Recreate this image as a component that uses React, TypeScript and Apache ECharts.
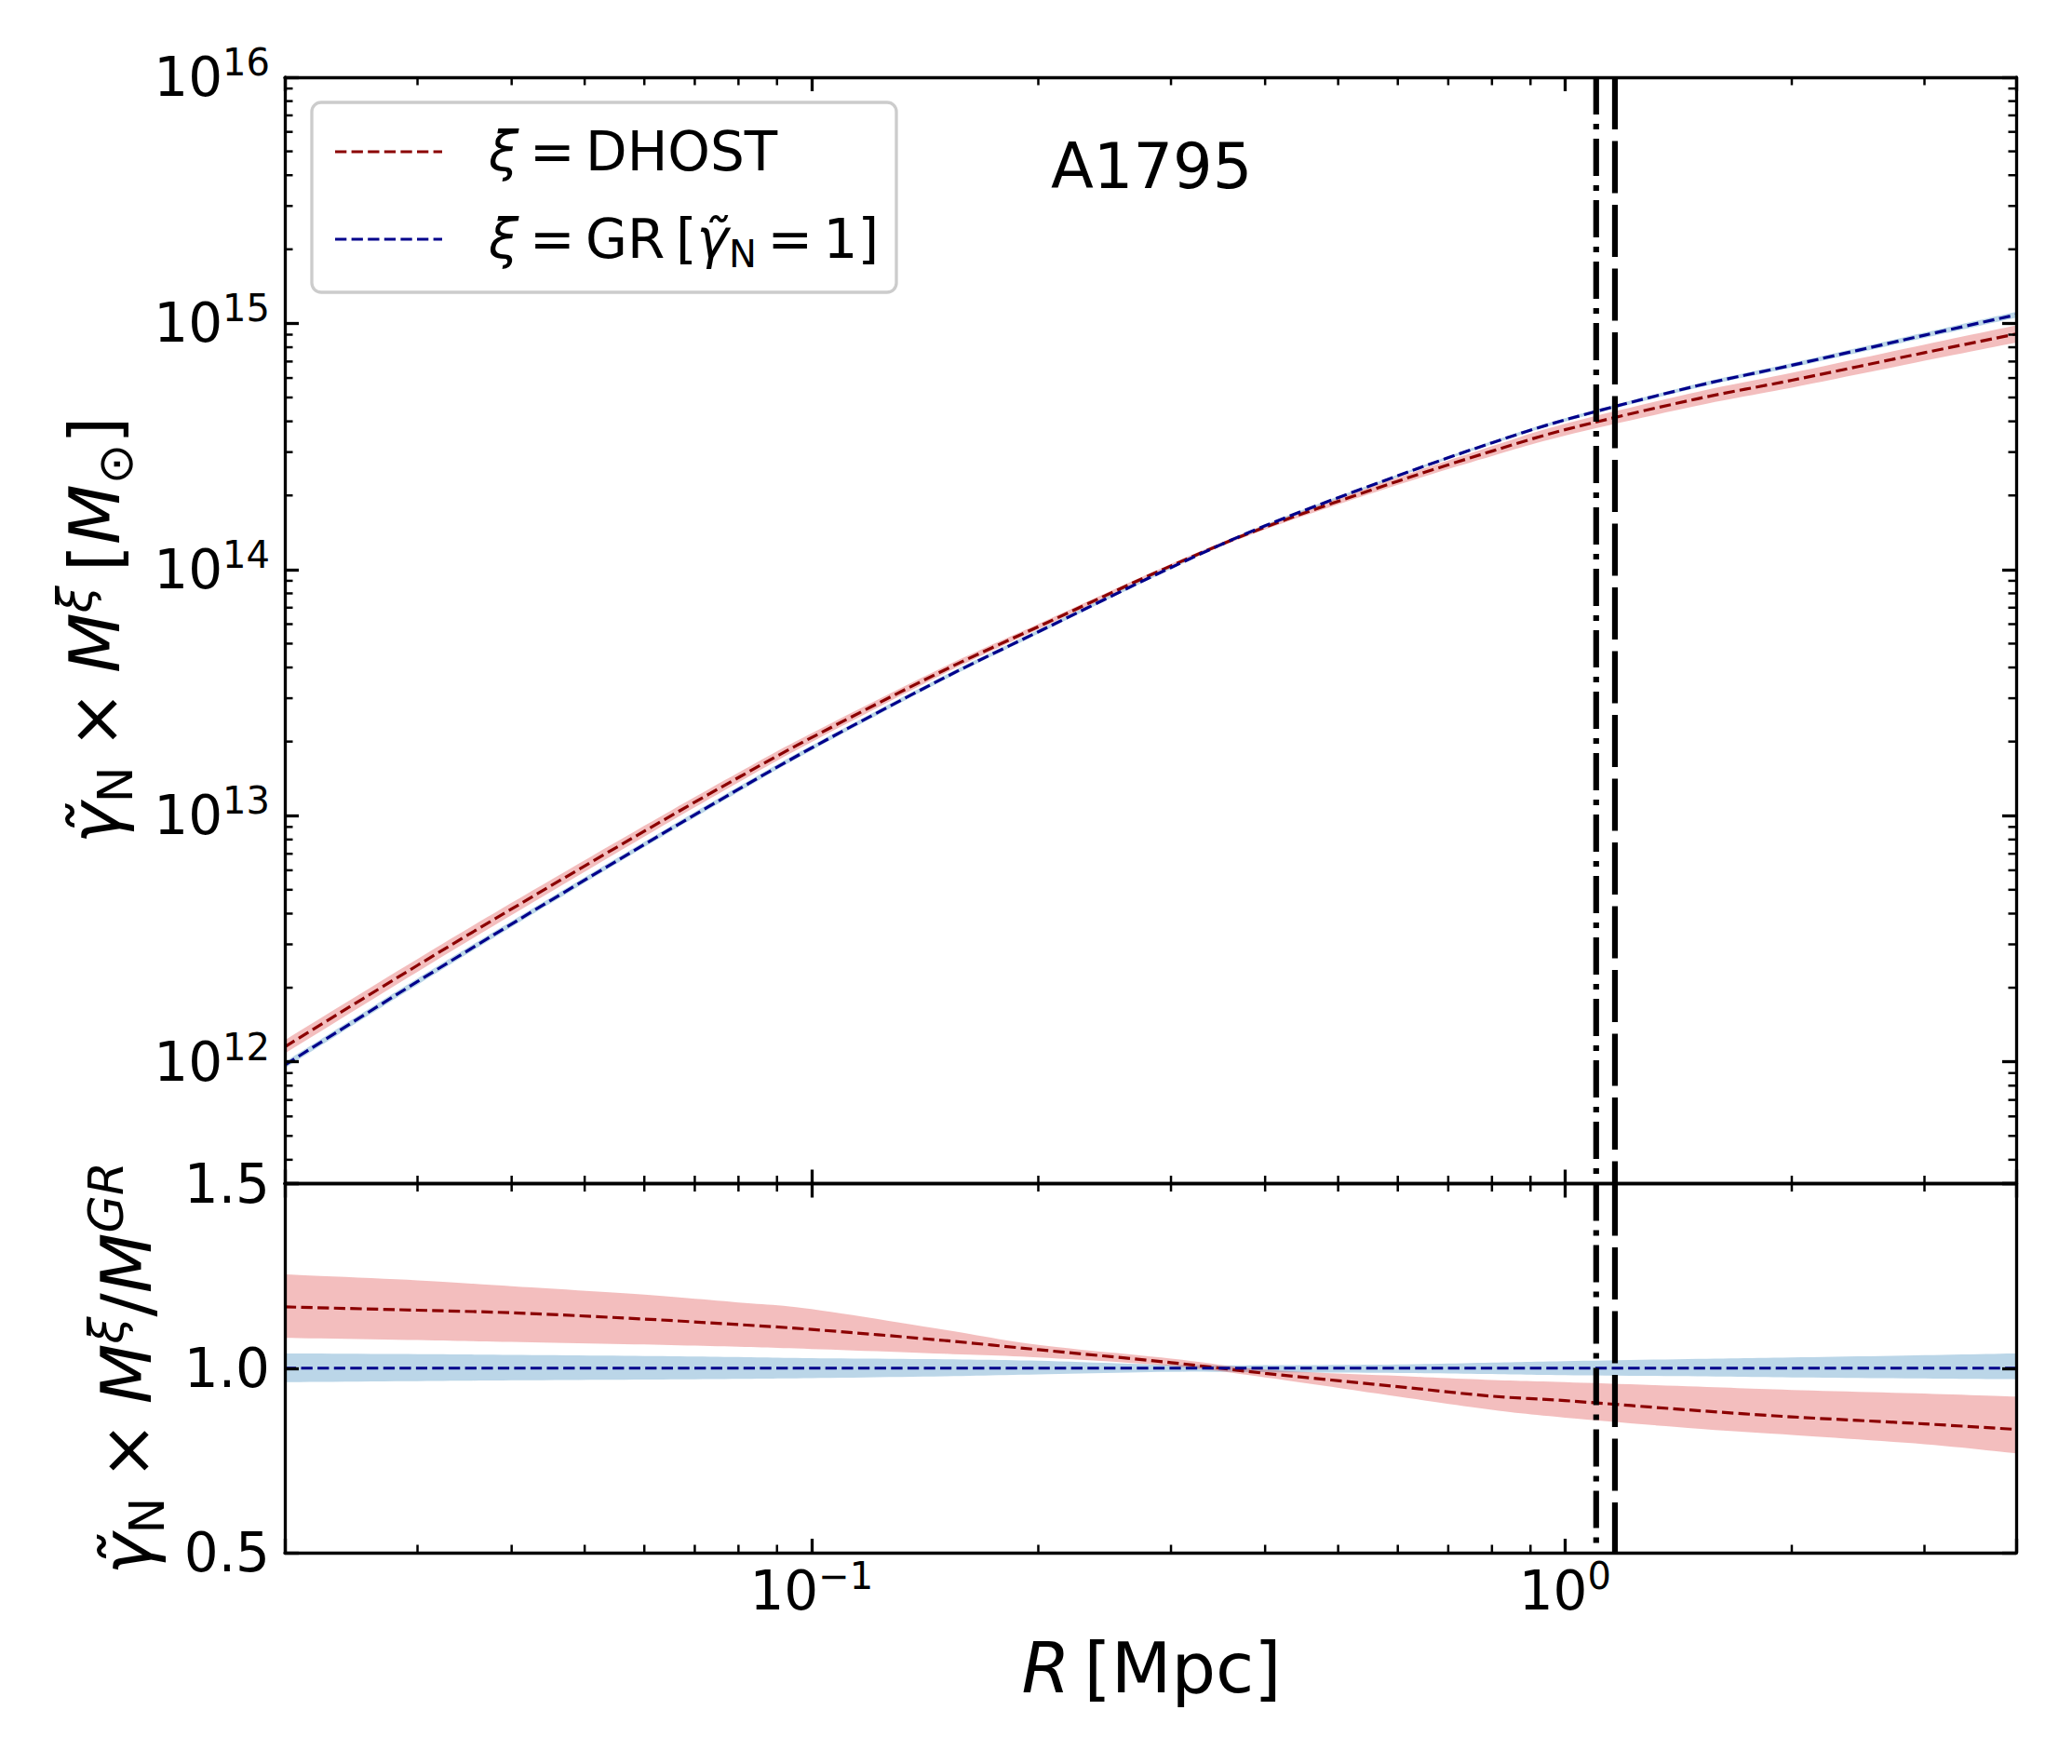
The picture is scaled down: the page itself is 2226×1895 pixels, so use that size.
import React, { useEffect, useRef } from 'react';
import * as echarts from 'echarts';

const FONT = 'DejaVu Sans';

// ---- data ----
const R_MPC = [0.02, 0.03, 0.04, 0.06, 0.08, 0.1, 0.15, 0.2, 0.3, 0.4, 0.6, 0.8, 1.0, 1.5, 2.0, 3.0, 3.97];

// upper panel, log10 of mass [M_sun]
const LOG_M_DHOST = [12.061, 12.392, 12.621, 12.937, 13.155, 13.317, 13.591, 13.768, 14.015, 14.172, 14.359, 14.481, 14.568, 14.694, 14.769, 14.881, 14.957];
const LOG_M_DHOST_HI = [12.088, 12.418, 12.646, 12.959, 13.175, 13.335, 13.605, 13.779, 14.023, 14.181, 14.374, 14.501, 14.592, 14.722, 14.799, 14.914, 14.992];
const LOG_M_DHOST_LO = [12.034, 12.366, 12.596, 12.915, 13.135, 13.299, 13.577, 13.757, 14.007, 14.163, 14.344, 14.461, 14.544, 14.666, 14.739, 14.848, 14.922];
const LOG_M_GR = [11.987, 12.326, 12.560, 12.883, 13.107, 13.275, 13.560, 13.747, 14.008, 14.178, 14.381, 14.515, 14.608, 14.747, 14.830, 14.952, 15.035];
const LOG_M_GR_HI = [12.000, 12.339, 12.572, 12.894, 13.118, 13.285, 13.569, 13.755, 14.014, 14.183, 14.386, 14.521, 14.615, 14.755, 14.839, 14.963, 15.047];
const LOG_M_GR_LO = [11.974, 12.313, 12.548, 12.872, 13.096, 13.265, 13.551, 13.739, 14.002, 14.173, 14.376, 14.509, 14.601, 14.739, 14.821, 14.941, 15.023];

// lower panel, ratio to GR
const RATIO_DHOST = [1.166, 1.157, 1.150, 1.133, 1.118, 1.105, 1.075, 1.050, 1.015, 0.986, 0.950, 0.924, 0.912, 0.885, 0.868, 0.849, 0.834];
const RATIO_DHOST_HI = [1.254, 1.238, 1.222, 1.199, 1.178, 1.160, 1.104, 1.063, 1.026, 0.996, 0.979, 0.968, 0.962, 0.950, 0.941, 0.931, 0.923];
const RATIO_DHOST_LO = [1.082, 1.076, 1.071, 1.064, 1.058, 1.052, 1.039, 1.029, 1.006, 0.975, 0.923, 0.887, 0.866, 0.836, 0.819, 0.794, 0.769];
const RATIO_GR = [1, 1, 1, 1, 1, 1, 1, 1, 1, 1, 1, 1, 1, 1, 1, 1, 1];
const RATIO_GR_HI = [1.040, 1.038, 1.036, 1.033, 1.030, 1.027, 1.024, 1.020, 1.009, 1.008, 1.010, 1.015, 1.019, 1.025, 1.029, 1.035, 1.040];
const RATIO_GR_LO = [0.962, 0.965, 0.967, 0.969, 0.971, 0.973, 0.978, 0.983, 0.990, 0.989, 0.987, 0.984, 0.981, 0.978, 0.975, 0.972, 0.970];

// radii of vertical reference lines [Mpc]
const R500_DASHDOT = 1.10;
const R500_DASHED = 1.165;

// axis ranges and ticks
const X_MIN = 0.02;
const X_MAX = 3.97;
const Y_MIN = 3.2e11;
const Y_MAX = 1e16;
const RATIO_MIN = 0.5;
const RATIO_MAX = 1.5;
const RATIO_STEP = 0.5;
const X_MINOR = [0.03, 0.04, 0.05, 0.06, 0.07, 0.08, 0.09, 0.2, 0.3, 0.4, 0.5, 0.6, 0.7, 0.8, 0.9, 2, 3];
const Y_MINOR_MANTISSA = [2, 3, 4, 5, 6, 7, 8, 9];
const Y_MINOR_DECADES = [1e11, 1e12, 1e13, 1e14, 1e15];

// ---- styles ----
const C_DHOST = '#8b0000';
const C_GR = '#00008b';
const C_DHOST_BAND = 'rgba(214,39,40,0.3)';
const C_GR_BAND = 'rgba(31,119,180,0.3)';
const CURVE_DASH = [12.3, 5.3];
const MAJOR_LEN = 15;
const MINOR_LEN = 8.5;
const DASHDOT = [40, 10, 6, 10];
const DASHED = [56, 12.5];

const Y_MINOR: number[] = [];
Y_MINOR_DECADES.forEach((d) => Y_MINOR_MANTISSA.forEach((m) => {
  const v = m * d;
  if (v > Y_MIN && v < Y_MAX) Y_MINOR.push(v);
}));

const pow10 = (arr: number[]) => arr.map((v) => Math.pow(10, v));
const pairs = (ys: number[]) => R_MPC.map((r, i) => [r, ys[i]]);

// Catmull-Rom smoothing of an edge in pixel space (rendering only)
function smoothEdge(pts: number[][], seg = 12): number[][] {
  const out: number[][] = [];
  const n = pts.length;
  for (let i = 0; i < n - 1; i++) {
    const p0 = pts[Math.max(i - 1, 0)];
    const p1 = pts[i];
    const p2 = pts[i + 1];
    const p3 = pts[Math.min(i + 2, n - 1)];
    for (let k = 0; k < seg; k++) {
      const t = k / seg;
      const t2 = t * t;
      const t3 = t2 * t;
      const f = (a: number, b: number, c: number, d: number) =>
        0.5 * (2 * b + (-a + c) * t + (2 * a - 5 * b + 4 * c - d) * t2 + (-a + 3 * b - 3 * c + d) * t3);
      out.push([f(p0[0], p1[0], p2[0], p3[0]), f(p0[1], p1[1], p2[1], p3[1])]);
    }
  }
  out.push(pts[n - 1]);
  return out;
}

const decadeLabel = (v: number) => {
  const e = Math.log10(v);
  const n = Math.round(e);
  if (Math.abs(e - n) > 1e-6) return '';
  const ex = n < 0 ? '\u2212' + String(-n) : String(n);
  return `{b|10}{s|${ex}}`;
};

const tickRich = {
  b: { fontSize: 58, lineHeight: 72, fontFamily: FONT, color: '#000' },
  s: { fontSize: 40, verticalAlign: 'top', fontFamily: FONT, color: '#000' },
};

const axisBase = {
  axisLine: { show: true, onZero: false, lineStyle: { color: '#000', width: 3.3 } },
  axisTick: { show: true, inside: true, length: MAJOR_LEN, lineStyle: { color: '#000', width: 3.3 } },
  splitLine: { show: false },
  minorTick: { show: false },
  z: 10,
};

function bandSeries(xi: number, yi: number, hi: number[], lo: number[], color: string) {
  return {
    type: 'custom',
    xAxisIndex: xi,
    yAxisIndex: yi,
    silent: true,
    z: 1,
    data: [[R_MPC[0], hi[0]]],
    renderItem: (_p: any, api: any) => {
      const top = smoothEdge(R_MPC.map((r, i) => api.coord([r, hi[i]])));
      const bot = smoothEdge(R_MPC.map((r, i) => api.coord([r, lo[i]])));
      const pts = top.concat(bot.reverse());
      return { type: 'polygon', shape: { points: pts }, style: { fill: color } };
    },
  };
}

function curveSeries(xi: number, yi: number, ys: number[], color: string) {
  return {
    type: 'line',
    xAxisIndex: xi,
    yAxisIndex: yi,
    data: pairs(ys),
    showSymbol: false,
    symbol: 'none',
    smooth: 0.33,
    silent: true,
    z: 3,
    lineStyle: { color, width: 3.2, type: CURVE_DASH },
  };
}

function vlineSeries(xi: number, yi: number, r: number, y0: number, y1: number, dash: number[]) {
  return {
    type: 'line',
    xAxisIndex: xi,
    yAxisIndex: yi,
    data: [[r, y1], [r, y0]],
    showSymbol: false,
    symbol: 'none',
    silent: true,
    z: 4,
    lineStyle: { color: '#000', width: 6.2, type: dash },
  };
}

function xMinorSeries(xi: number, yi: number, y0: number, y1: number) {
  return {
    type: 'custom',
    xAxisIndex: xi,
    yAxisIndex: yi,
    silent: true,
    z: 11,
    data: X_MINOR.map((v) => [v, y0]),
    renderItem: (_p: any, api: any) => {
      const v = api.value(0);
      const b = api.coord([v, y0]);
      const t = api.coord([v, y1]);
      const st = { stroke: '#000', lineWidth: 2.5 };
      return {
        type: 'group',
        children: [
          { type: 'line', shape: { x1: b[0], y1: b[1], x2: b[0], y2: b[1] - MINOR_LEN }, style: st },
          { type: 'line', shape: { x1: t[0], y1: t[1], x2: t[0], y2: t[1] + MINOR_LEN }, style: st },
        ],
      };
    },
  };
}

function yMinorSeries() {
  return {
    type: 'custom',
    xAxisIndex: 0,
    yAxisIndex: 0,
    silent: true,
    z: 11,
    data: Y_MINOR.map((v) => [X_MIN, v]),
    renderItem: (_p: any, api: any) => {
      const v = api.value(1);
      const l = api.coord([X_MIN, v]);
      const r = api.coord([X_MAX, v]);
      const st = { stroke: '#000', lineWidth: 2.5 };
      return {
        type: 'group',
        children: [
          { type: 'line', shape: { x1: l[0], y1: l[1], x2: l[0] + MINOR_LEN, y2: l[1] }, style: st },
          { type: 'line', shape: { x1: r[0], y1: r[1], x2: r[0] - MINOR_LEN, y2: r[1] }, style: st },
        ],
      };
    },
  };
}

const labelRich = (size: number, sub: number, lh: number) => ({
  i: { fontSize: size, fontStyle: 'italic', fontFamily: FONT, color: '#000', lineHeight: lh },
  r: { fontSize: size, fontFamily: FONT, color: '#000', lineHeight: lh },
  sub: { fontSize: sub, verticalAlign: 'bottom', fontFamily: FONT, color: '#000' },
  sup: { fontSize: sub, verticalAlign: 'top', fontStyle: 'italic', fontFamily: FONT, color: '#000' },
});

const TS = '\u2009';

const option: any = {
  animation: false,
  backgroundColor: '#ffffff',
  grid: [
    { left: 306, top: 83, width: 1860, height: 1188.5 },
    { left: 306, top: 1271.5, width: 1860, height: 396.5 },
  ],
  xAxis: [
    { ...axisBase, type: 'log', gridIndex: 0, position: 'bottom', min: X_MIN, max: X_MAX, axisLabel: { show: false } },
    { ...axisBase, type: 'log', gridIndex: 0, position: 'top', min: X_MIN, max: X_MAX, axisLabel: { show: false } },
    {
      ...axisBase, type: 'log', gridIndex: 1, position: 'bottom', min: X_MIN, max: X_MAX,
      axisLabel: { show: true, margin: 5, formatter: decadeLabel, rich: tickRich, fontSize: 58, fontFamily: FONT, color: '#000' },
    },
    { ...axisBase, type: 'log', gridIndex: 1, position: 'top', min: X_MIN, max: X_MAX, axisLabel: { show: false } },
  ],
  yAxis: [
    {
      ...axisBase, type: 'log', gridIndex: 0, position: 'left', min: Y_MIN, max: Y_MAX,
      axisLabel: { show: true, margin: 16, formatter: decadeLabel, rich: tickRich, fontSize: 58, fontFamily: FONT, color: '#000' },
    },
    { ...axisBase, type: 'log', gridIndex: 0, position: 'right', min: Y_MIN, max: Y_MAX, axisLabel: { show: false } },
    {
      ...axisBase, type: 'value', gridIndex: 1, position: 'left', min: RATIO_MIN, max: RATIO_MAX, interval: RATIO_STEP,
      axisLabel: { show: true, margin: 16, formatter: (v: number) => v.toFixed(1), fontSize: 58, fontFamily: FONT, color: '#000' },
    },
    {
      ...axisBase, type: 'value', gridIndex: 1, position: 'right', min: RATIO_MIN, max: RATIO_MAX, interval: RATIO_STEP,
      axisLabel: { show: false },
    },
  ],
  series: [
    bandSeries(0, 0, pow10(LOG_M_GR_HI), pow10(LOG_M_GR_LO), C_GR_BAND),
    bandSeries(0, 0, pow10(LOG_M_DHOST_HI), pow10(LOG_M_DHOST_LO), C_DHOST_BAND),
    curveSeries(0, 0, pow10(LOG_M_DHOST), C_DHOST),
    curveSeries(0, 0, pow10(LOG_M_GR), C_GR),
    vlineSeries(0, 0, R500_DASHDOT, Y_MIN, Y_MAX, DASHDOT),
    vlineSeries(0, 0, R500_DASHED, Y_MIN, Y_MAX, DASHED),
    xMinorSeries(0, 0, Y_MIN, Y_MAX),
    yMinorSeries(),

    bandSeries(2, 2, RATIO_GR_HI, RATIO_GR_LO, C_GR_BAND),
    bandSeries(2, 2, RATIO_DHOST_HI, RATIO_DHOST_LO, C_DHOST_BAND),
    curveSeries(2, 2, RATIO_DHOST, C_DHOST),
    curveSeries(2, 2, RATIO_GR, C_GR),
    vlineSeries(2, 2, R500_DASHDOT, RATIO_MIN, RATIO_MAX, DASHDOT),
    vlineSeries(2, 2, R500_DASHED, RATIO_MIN, RATIO_MAX, DASHED),
    xMinorSeries(2, 2, RATIO_MIN, RATIO_MAX),
  ],
  graphic: [
    // legend frame
    {
      type: 'rect', z: 20,
      shape: { x: 335, y: 110, width: 628, height: 204, r: 10 },
      style: { fill: 'rgba(255,255,255,0.8)', stroke: '#cccccc', lineWidth: 3.3 },
    },
    {
      type: 'line', z: 21,
      shape: { x1: 360, y1: 163, x2: 475, y2: 163 },
      style: { stroke: C_DHOST, lineWidth: 3.2, lineDash: CURVE_DASH },
    },
    {
      type: 'line', z: 21,
      shape: { x1: 360, y1: 257, x2: 475, y2: 257 },
      style: { stroke: C_GR, lineWidth: 3.2, lineDash: CURVE_DASH },
    },
    {
      type: 'text', z: 21, x: 525, y: 127,
      style: {
        text: `{i|\u03be}${TS}=${TS}DHOST`, fontSize: 58, fontFamily: FONT, fill: '#000', lineHeight: 72,
        align: 'left', verticalAlign: 'top', textAlign: 'left', textVerticalAlign: 'top',
        rich: labelRich(58, 40, 72),
      },
    },
    {
      type: 'text', z: 21, x: 525, y: 220.5,
      style: {
        text: `{i|\u03be}${TS}=${TS}GR${TS}[{i|\u03b3\u0303}{sub|N}${TS}=${TS}1]`, fontSize: 58, fontFamily: FONT, fill: '#000', lineHeight: 72,
        align: 'left', verticalAlign: 'top', textAlign: 'left', textVerticalAlign: 'top',
        rich: labelRich(58, 40, 72),
      },
    },
    // cluster name
    {
      type: 'text', z: 21, x: 1129, y: 179,
      style: {
        text: 'A1795', fontSize: 67, fontFamily: FONT, fill: '#000',
        align: 'left', verticalAlign: 'middle', textAlign: 'left', textVerticalAlign: 'middle',
      },
    },
    // x label
    {
      type: 'text', z: 21, x: 1237, y: 1792,
      style: {
        text: '{i|R}\u2009[Mpc]', fontSize: 75, fontFamily: FONT, fill: '#000', lineHeight: 80,
        align: 'center', verticalAlign: 'middle', textAlign: 'center', textVerticalAlign: 'middle',
        rich: labelRich(75, 52, 80),
      },
    },
    // upper y label
    {
      type: 'text', z: 21, x: 102, y: 677, rotation: Math.PI / 2,
      style: {
        text: '{i|\u03b3\u0303}{sub|N}\u2005\u00d7\u2005{i|M}{sup|\u03be}\u2009[{i|M}{sub|\u2299}]',
        fontSize: 75, fontFamily: FONT, fill: '#000', lineHeight: 96,
        align: 'center', verticalAlign: 'middle', textAlign: 'center', textVerticalAlign: 'middle',
        rich: labelRich(75, 52, 96),
      },
    },
    // lower y label
    {
      type: 'text', z: 21, x: 136, y: 1470, rotation: Math.PI / 2,
      style: {
        text: '{i|\u03b3\u0303}{sub|N}\u2005\u00d7\u2005{i|M}{sup|\u03be}{r|/}{i|M}{sup|GR}',
        fontSize: 75, fontFamily: FONT, fill: '#000', lineHeight: 96,
        align: 'center', verticalAlign: 'middle', textAlign: 'center', textVerticalAlign: 'middle',
        rich: labelRich(75, 52, 96),
      },
    },
  ],
};

export default function App() {
  const ref = useRef<HTMLDivElement>(null);
  useEffect(() => {
    document.body.style.margin = '0';
    const chart = echarts.init(ref.current as HTMLDivElement, undefined, { renderer: 'svg' });
    chart.setOption(option);
    return () => chart.dispose();
  }, []);
  return (
    <div
      ref={ref}
      style={{ position: 'absolute', left: 0, top: 0, width: 2226, height: 1895, background: '#fff' }}
    />
  );
}
